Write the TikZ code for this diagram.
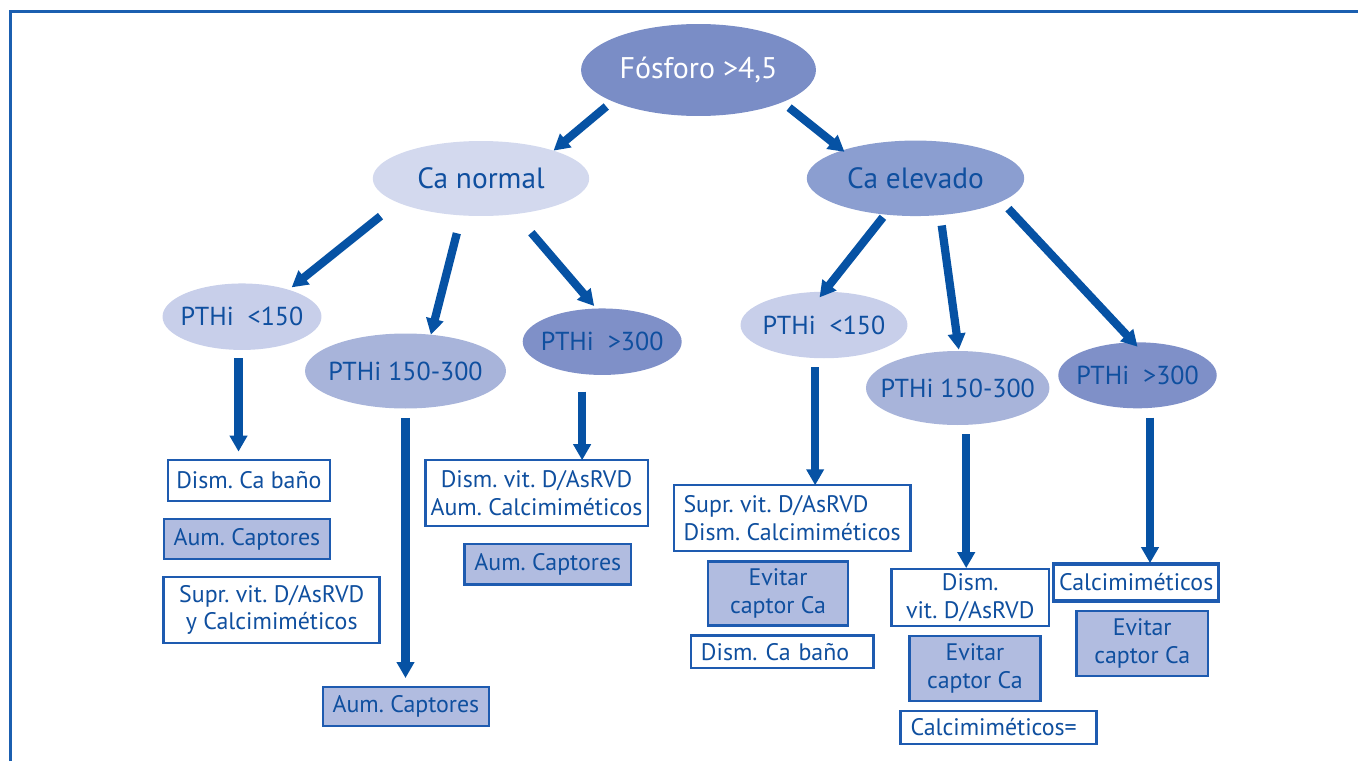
\documentclass[tikz,border=0pt]{standalone}
\usepackage{fontspec}
\setmainfont{PT Sans}
\usetikzlibrary{arrows.meta, shapes.geometric}
\frenchspacing

\definecolor{inkblue}{HTML}{0F4F9F}
\definecolor{arrowblue}{HTML}{0652A4}
\definecolor{frameblue}{HTML}{1B5FB0}
\definecolor{boxblue}{HTML}{1E5BB0}
\definecolor{ovaltop}{HTML}{7A8DC6}
\definecolor{ovaldark}{HTML}{7F90C8}
\definecolor{ovalmid}{HTML}{8B9ED0}
\definecolor{ovalsoft}{HTML}{A8B4DA}
\definecolor{ovallight}{HTML}{C8CFEA}
\definecolor{ovalpale}{HTML}{D3D9EE}
\definecolor{boxfill}{HTML}{B1BCE0}

\begin{document}
\begin{tikzpicture}
    [
        x=0.02cm, y=-0.02cm,
        base_oval/.style={ellipse, inner xsep=-0.6cm, inner ysep=0pt, outer sep=0pt, text=inkblue, font=\fontsize{14.8}{18}\selectfont},
        top_oval/.style={base_oval, fill=ovaltop, text=white, font=\fontsize{17}{20}\selectfont},
        ca_oval/.style={base_oval, font=\fontsize{16.7}{20}\selectfont},
        base_box/.style={rectangle, draw=boxblue, line width=1.4pt, inner xsep=0.1cm, inner ysep=0.05cm, outer sep=0pt, text=inkblue, font=\fontsize{13.6}{15.8}\selectfont},
        white_box/.style={base_box, fill=white},
        filled_box/.style={base_box, fill=boxfill},
        thick_arrow/.style={-{Triangle[width=0.34cm, length=0.32cm]}, line width=0.165cm, color=arrowblue},
    ]
        \useasboundingbox (0,0) rectangle (1358,761) ;
        \draw[line width=1.7pt, color=frameblue] (10.5,761) -- (10.5,11.7) -- (1358,11.7) ;

        % ovals
        \node[top_oval, minimum width=4.7cm, minimum height=1.84cm] (fosforo) at (698.5,70) {Fósforo >4,5} ;
        \node[ca_oval, fill=ovalpale, minimum width=4.33cm, minimum height=1.5cm] (canormal) at (481,178.5) {Ca normal} ;
        \node[ca_oval, fill=ovalmid, minimum width=4.35cm, minimum height=1.51cm] (caelevado) at (915.5,178.3) {Ca elevado} ;
        \node[base_oval, fill=ovallight, minimum width=3.18cm, minimum height=1.33cm] (low_n) at (242,316.7) {PTHi\ \ <150} ;
        \node[base_oval, fill=ovalsoft, minimum width=4.02cm, minimum height=1.5cm] (mid_n) at (405.5,371) {PTHi 150-300} ;
        \node[base_oval, fill=ovaldark, minimum width=3.18cm, minimum height=1.33cm] (high_n) at (602.2,341.7) {PTHi\ \ >300} ;
        \node[base_oval, fill=ovallight, minimum width=3.34cm, minimum height=1.33cm] (low_e) at (824,325) {PTHi\ \ <150} ;
        \node[base_oval, fill=ovalsoft, minimum width=3.67cm, minimum height=1.48cm] (mid_e) at (957.7,388) {PTHi 150-300} ;
        \node[base_oval, fill=ovaldark, minimum width=3.17cm, minimum height=1.32cm] (high_e) at (1137.5,375.3) {PTHi\ \ >300} ;

        % boxes, Ca normal
        \node[white_box, minimum width=3.24cm, minimum height=0.81cm] (bano_n) at (248.9,480.5) {Dism. Ca baño} ;
        \node[filled_box, minimum width=3.32cm, minimum height=0.80cm] (captor_n1) at (246.9,538.9) {Aum. Captores} ;
        \node[white_box, align=center, minimum width=4.32cm, minimum height=1.31cm] (suprvit_n) at (271.7,610) {Supr. vit. D/AsRVD\\y Calcimiméticos} ;
        \node[filled_box, minimum width=3.32cm, minimum height=0.78cm] (captor_n2) at (405.9,706.5) {Aum. Captores} ;
        \node[white_box, align=center, minimum width=4.45cm, minimum height=1.32cm] (dismvit_n) at (536.5,493.2) {Dism. vit. D/AsRVD\\Aum. Calcimiméticos} ;
        \node[filled_box, minimum width=3.33cm, minimum height=0.81cm] (captor_n3) at (547.8,564.2) {Aum. Captores} ;

        % boxes, Ca elevado
        \node[white_box, align=left, minimum width=4.73cm, minimum height=1.31cm] (suprvit_e) at (792.1,518) {Supr. vit. D/AsRVD\\Dism. Calcimiméticos} ;
        \node[filled_box, align=center, minimum width=2.80cm, minimum height=1.28cm] (evitar_e1) at (778,593.3) {Evitar\\captor Ca} ;
        \node[white_box, align=left, inner xsep=0.2cm, text width=3.25cm, minimum height=0.65cm] (bano_e) at (782.2,651.8) {Dism. Ca baño} ;
        \node[white_box, align=center, minimum width=3.15cm, minimum height=1.14cm] (dismvit_e) at (970.2,597.5) {Dism.\\vit. D/AsRVD} ;
        \node[filled_box, align=center, minimum width=2.62cm, minimum height=1.30cm] (evitar_e2) at (974.9,668.6) {Evitar\\captor Ca} ;
        \node[white_box, align=left, inner xsep=0.2cm, text width=3.52cm, minimum height=0.65cm] (calci_e2) at (998.5,727.5) {Calcimiméticos=} ;
        \node[white_box, line width=1.9pt, minimum width=3.30cm, minimum height=0.74cm] (calci_e3) at (1136.2,582.5) {Calcimiméticos} ;
        \node[filled_box, align=center, minimum width=2.63cm, minimum height=1.30cm] (evitar_e3) at (1142.2,643.6) {Evitar\\captor Ca} ;

        % arrows between ovals
        \draw[thick_arrow, shorten <=4.6pt] (fosforo.200) -- (canormal.21) ;
        \draw[thick_arrow, shorten <=4.9pt, shorten >=-1.4pt] (fosforo.339) -- (caelevado.159) ;
        \draw[thick_arrow, shorten <=12.5pt, shorten >=2.2pt] (canormal.196) -- (low_n.30) ;
        \draw[thick_arrow, shorten <=10.5pt] (canormal.242) -- (mid_n.55) ;
        \draw[thick_arrow, shorten <=14pt, shorten >=1.9pt] (canormal.314) -- (high_n.100) ;
        \draw[thick_arrow, shorten <=2pt, shorten >=-4.1pt] (caelevado.230) -- (low_e.90) ;
        \draw[thick_arrow, shorten <=6pt, shorten >=0.8pt] (caelevado.304) -- (mid_e.88) ;
        \draw[thick_arrow, shorten <=5.7pt, shorten >=-3.4pt] (caelevado.345) -- (high_e.97) ;

        % arrows down to the boxes
        \draw[thick_arrow, shorten <=4.7pt, shorten >=4.9pt] (low_n.264) -- (low_n.264 |- bano_n.north) ;
        \draw[thick_arrow, shorten <=5.3pt, shorten >=5.1pt] (mid_n.south) -- (mid_n.south |- captor_n2.north) ;
        \draw[thick_arrow, shorten <=10.1pt] (high_n.238) -- (high_n.238 |- dismvit_n.north) ;
        \draw[thick_arrow, shorten <=5.2pt] (low_e.255) -- (low_e.255 |- suprvit_e.north) ;
        \draw[thick_arrow, shorten <=5.4pt, shorten >=0.5pt] (mid_e.283) -- (mid_e.283 |- dismvit_e.north) ;
        \draw[thick_arrow, shorten <=5.6pt, shorten >=0.5pt] (high_e.291) -- (high_e.291 |- calci_e3.north) ;
    \end{tikzpicture}
\end{document}
